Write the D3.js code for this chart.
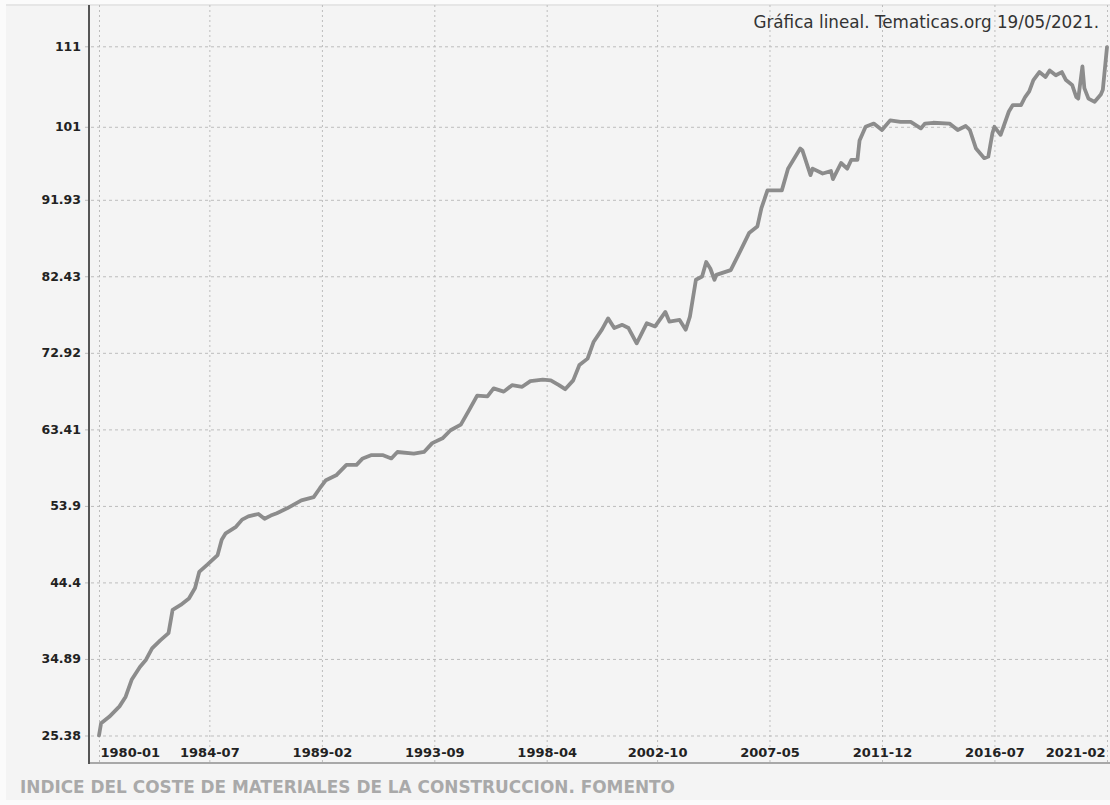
<!DOCTYPE html>
<html>
<head>
<meta charset="utf-8">
<script src="https://cdnjs.cloudflare.com/ajax/libs/d3/7.8.5/d3.min.js"></script>
<style>
   body { margin: 0; background: #fbfbfb; }
   .chart { width: 1110px; height: 805px; }
</style>
</head>
<body>
<div class="chart"></div>
<script>
// ======================================
// Data (month, index value)
// ======================================
var months = [
   '1980-01','1980-02','1980-06','1980-11','1981-02','1981-05','1981-09','1981-12',
   '1982-03','1982-07','1982-11','1983-01','1983-05','1983-09','1983-12','1984-02',
   '1984-06','1984-11','1985-01','1985-03','1985-08','1985-11','1986-02','1986-07',
   '1986-10','1987-01','1987-04','1987-09','1988-04','1988-10','1989-01','1989-04',
   '1989-09','1990-02','1990-07','1990-10','1991-02','1991-08','1991-12','1992-03',
   '1992-11','1993-04','1993-08','1994-01','1994-05','1994-10','1995-02','1995-06',
   '1995-11','1996-02','1996-07','1996-11','1997-04','1997-08','1998-02','1998-06',
   '1998-10','1999-01','1999-05','1999-08','1999-12','2000-03','2000-07','2000-10',
   '2001-01','2001-05','2001-08','2001-12','2002-05','2002-09','2003-02','2003-04',
   '2003-09','2003-12','2004-02','2004-05','2004-08','2004-10','2004-12','2005-02',
   '2005-03','2005-10','2006-03','2006-07','2006-11','2007-01','2007-04','2007-11',
   '2008-02','2008-08','2008-09','2009-01','2009-02','2009-07','2009-11','2009-12',
   '2010-04','2010-07','2010-09','2010-12','2011-01','2011-04','2011-08','2011-12',
   '2012-04','2012-09','2013-02','2013-07','2013-09','2014-01','2014-09','2015-01',
   '2015-05','2015-07','2015-10','2016-02','2016-04','2016-06','2016-07','2016-10',
   '2017-02','2017-04','2017-08','2017-10','2017-12','2018-02','2018-05','2018-08',
   '2018-10','2019-01','2019-04','2019-06','2019-09','2019-11','2019-12','2020-02',
   '2020-03','2020-05','2020-08','2020-11','2020-12','2021-02'
];

var values = [
   25.38, 26.9, 27.7, 29.0, 30.2, 32.3, 33.9, 34.8,
   36.2, 37.2, 38.1, 41.0, 41.6, 42.4, 43.7, 45.7,
   46.6, 47.8, 49.7, 50.5, 51.3, 52.2, 52.6, 52.9,
   52.3, 52.7, 53.0, 53.6, 54.6, 55.0, 56.1, 57.1,
   57.7, 59.0, 59.0, 59.8, 60.2, 60.2, 59.8, 60.6,
   60.4, 60.6, 61.7, 62.3, 63.3, 64.0, 65.8, 67.6,
   67.5, 68.5, 68.1, 68.9, 68.7, 69.4, 69.6, 69.5,
   68.9, 68.4, 69.5, 71.4, 72.2, 74.3, 75.8, 77.2,
   76.0, 76.4, 76.0, 74.1, 76.6, 76.2, 78.0, 76.8,
   77.0, 75.8, 77.4, 82.0, 82.4, 84.2, 83.4, 82.0,
   82.6, 83.2, 85.7, 87.8, 88.6, 90.9, 93.1, 93.1,
   95.8, 98.3, 98.1, 95.0, 95.8, 95.2, 95.5, 94.5,
   96.5, 95.8, 96.9, 96.9, 99.3, 101.0, 101.4, 100.6,
   101.8, 101.6, 101.6, 100.8, 101.4, 101.5, 101.4, 100.6,
   101.1, 100.6, 98.3, 97.1, 97.3, 100.2, 101.0, 100.0,
   102.9, 103.7, 103.7, 104.7, 105.4, 106.8, 107.8, 107.2,
   108.0, 107.4, 107.8, 106.8, 106.2, 104.7, 104.5, 108.5,
   105.8, 104.5, 104.1, 105.0, 105.6, 110.9
];

var yTicks = [25.38, 34.89, 44.4, 53.9, 63.41, 72.92, 82.43, 91.93, 101, 111];
var xTickLabels = ['1980-01','1984-07','1989-02','1993-09','1998-04',
                   '2002-10','2007-05','2011-12','2016-07','2021-02'];

var chartTitle = 'Gráfica lineal. Tematicas.org 19/05/2021.';
var chartFooter = 'INDICE DEL COSTE DE MATERIALES DE LA CONSTRUCCION. FOMENTO';

// ======================================
// Svg dimensions and plot box
// ======================================
var chart = {
   width: 1110,
   height: 805,
   left: 89,
   right: 1110,
   top: 5,
   bottom: 763
};

var parseMonth = d3.timeParse('%Y-%m');
var series = months.map(function(m, i){ return { date: parseMonth(m), value: values[i] }; });
var xTickDates = xTickLabels.map(parseMonth);

var x = d3.scaleTime()
   .domain([parseMonth('1980-01'), parseMonth('2021-02')])
   .range([99, 1107])
   ;

var y = d3.scaleLinear()
   .domain([25.38, 111])
   .range([735.5, 46.3])
   ;

// ======================================
// Set up the SVG palette
// ======================================
var svg = d3.select('.chart')
   .append('svg')
   .attr('width', chart.width)
   .attr('height', chart.height)
   ;

svg.append('rect')
   .attr('x', 6)
   .attr('y', 4)
   .attr('width', chart.width - 6)
   .attr('height', 796)
   .attr('fill', '#f4f4f4')
   ;

svg.append('line')
   .attr('x1', 6).attr('x2', chart.width)
   .attr('y1', chart.top).attr('y2', chart.top)
   .attr('stroke', '#e2e2e2')
   .attr('stroke-width', 1.5)
   ;

// ======================================
// grid + y labels
// ======================================
var yAxis = svg.append('g')
   .attr('transform', 'translate(85,0)')
   .call(d3.axisLeft(y)
      .tickValues(yTicks)
      .tickFormat(function(d){ return String(d); })
      .tickSize(-(chart.right - 85))
      .tickPadding(4))
   ;
yAxis.select('.domain').remove();
yAxis.selectAll('.tick line')
   .attr('stroke', '#bdbdbd')
   .attr('stroke-dasharray', '3,3')
   ;
yAxis.selectAll('.tick text')
   .attr('font-family', '"DejaVu Sans", Verdana, sans-serif')
   .attr('font-weight', 'bold')
   .attr('font-size', '12.5px')
   .attr('fill', '#222')
   ;

var xGrid = svg.append('g')
   .attr('transform', 'translate(0,' + chart.top + ')')
   .call(d3.axisBottom(x)
      .tickValues(xTickDates)
      .tickFormat('')
      .tickSize(chart.bottom - chart.top))
   ;
xGrid.select('.domain').remove();
xGrid.selectAll('.tick line')
   .attr('stroke', '#bdbdbd')
   .attr('stroke-dasharray', '2,3')
   ;

var xAxis = svg.append('g')
   .attr('transform', 'translate(0,748)')
   .call(d3.axisBottom(x)
      .tickValues(xTickDates)
      .tickFormat(d3.timeFormat('%Y-%m'))
      .tickSize(0)
      .tickPadding(0))
   ;
xAxis.select('.domain').remove();
xAxis.selectAll('.tick text')
   .attr('font-family', '"DejaVu Sans", Verdana, sans-serif')
   .attr('font-weight', 'bold')
   .attr('font-size', '13px')
   .attr('fill', '#222')
   .attr('text-anchor', function(d, i){
      if(i === 0){ return 'start'; }
      if(i === xTickDates.length - 1){ return 'end'; }
      return 'middle';
   })
   .attr('dx', function(d, i){
      if(i === 0){ return 1; }
      if(i === xTickDates.length - 1){ return -2; }
      return 0;
   })
   ;

// ======================================
// axis lines
// ======================================
svg.append('line')
   .attr('x1', chart.left).attr('x2', chart.right)
   .attr('y1', chart.bottom).attr('y2', chart.bottom)
   .attr('stroke', '#a8a8a8')
   .attr('stroke-width', 2)
   ;
svg.append('line')
   .attr('x1', chart.left).attr('x2', chart.left)
   .attr('y1', chart.top).attr('y2', chart.bottom + 1)
   .attr('stroke', '#555')
   .attr('stroke-width', 2)
   ;

// ======================================
// the line itself
// ======================================
var line = d3.line()
   .x(function(d){ return x(d.date); })
   .y(function(d){ return y(d.value); })
   ;

svg.append('path')
   .datum(series)
   .attr('d', line)
   .attr('fill', 'none')
   .attr('stroke', '#8c8c8c')
   .attr('stroke-width', 3.8)
   .attr('stroke-linejoin', 'round')
   .attr('stroke-linecap', 'round')
   ;

// ======================================
// titles
// ======================================
svg.append('text')
   .text(chartTitle)
   .attr('x', 1099)
   .attr('y', 28)
   .attr('text-anchor', 'end')
   .attr('font-family', '"DejaVu Sans", Verdana, sans-serif')
   .attr('font-size', '16.8px')
   .attr('fill', '#333')
   ;

svg.append('text')
   .text(chartFooter)
   .attr('x', 20)
   .attr('y', 793)
   .attr('font-family', '"DejaVu Sans", Verdana, sans-serif')
   .attr('font-weight', 'bold')
   .attr('font-size', '16.9px')
   .attr('fill', '#a9a9a9')
   ;
</script>
</body>
</html>
